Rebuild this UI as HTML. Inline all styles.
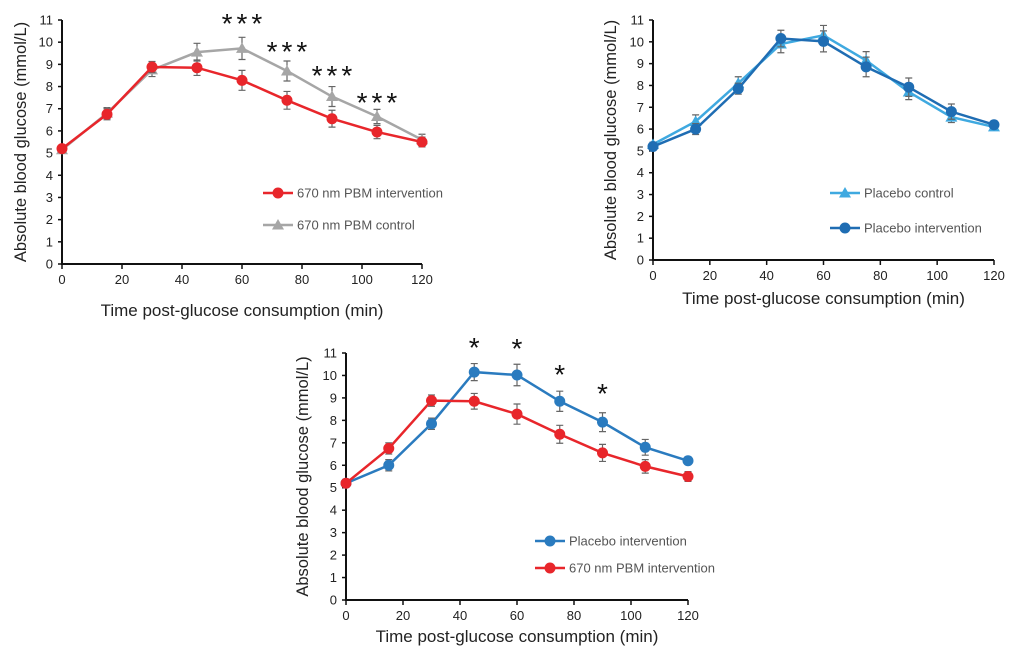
<!DOCTYPE html>
<html><head><meta charset="utf-8"><style>
body{margin:0;background:#fff;}
svg{display:block;font-family:"Liberation Sans","DejaVu Sans",sans-serif;}
</style></head><body>
<svg id="fig" width="1024" height="650"></svg>
<script>
const times=[0,15,30,45,60,75,90,105,120];
const xTicks=[0,20,40,60,80,100,120];
const yTicks=[0,1,2,3,4,5,6,7,8,9,10,11];
const pbmInt=[5.2,6.75,8.88,8.85,8.28,7.38,6.55,5.95,5.5];
const pbmIntErr=[0.15,0.25,0.25,0.35,0.45,0.4,0.38,0.3,0.22];
const pbmCtl=[5.15,6.8,8.75,9.55,9.72,8.7,7.55,6.65,5.6];
const pbmCtlErr=[0.1,0.25,0.3,0.4,0.5,0.45,0.45,0.32,0.25];
const plcCtl=[5.3,6.35,8.1,9.9,10.3,9.15,7.7,6.55,6.1];
const plcCtlErr=[0.1,0.3,0.3,0.4,0.45,0.4,0.35,0.25,0.15];
const plcInt=[5.2,6.0,7.85,10.15,10.02,8.85,7.92,6.8,6.2];
const plcIntErr=[0.1,0.25,0.25,0.38,0.48,0.45,0.42,0.35,0.1];
const sig1Times=[60,75,90,105];
const sig1Vals=[11.09,9.83,8.75,7.53];
const sig3Times=[45,60,75,90];
const sig3Vals=[11.49,11.45,10.29,9.44];

const NS="http://www.w3.org/2000/svg";
const svg=document.getElementById('fig');
function mk(tag,attrs,parent,text){const e=document.createElementNS(NS,tag);for(const k in attrs)e.setAttribute(k,attrs[k]);if(text!==undefined)e.textContent=text;(parent||svg).appendChild(e);return e;}

function chart(cfg){
  const g=mk('g',{});
  
  
  const X=t=>cfg.x0+(cfg.x1-cfg.x0)*t/120;
  const Y=v=>cfg.y0-(cfg.y0-cfg.y1)*v/11;
  const ax=mk('path',{d:`M${cfg.x0} ${Y(11)}V${cfg.y0}H${cfg.x1}`,stroke:'#111',fill:'none','stroke-width':2},g);
  
  
  yTicks.forEach(v=>{
    mk('line',{x1:cfg.x0-4,x2:cfg.x0,y1:Y(v),y2:Y(v),stroke:'#111','stroke-width':1.5},g);
    const t=mk('text',{x:cfg.x0-9,y:Y(v)+4.5,'text-anchor':'end','font-size':13,fill:'#222'},g,v);
    
    
  });
  xTicks.forEach(v=>{
    mk('line',{x1:X(v),x2:X(v),y1:cfg.y0,y2:cfg.y0+5,stroke:'#111','stroke-width':1.5},g);
    const t=mk('text',{x:X(v),y:cfg.y0+20,'text-anchor':'middle','font-size':13,fill:'#222'},g,v);
    
    
  });
  const yt=mk('text',{transform:`translate(${cfg.ytx},${(cfg.y0+Y(11))/2}) rotate(-90)`,'text-anchor':'middle','font-size':16.5,fill:'#222'},g,'Absolute blood glucose (mmol/L)');
  
  
  const xt=mk('text',{x:(cfg.x0+cfg.x1)/2,y:cfg.xty,'text-anchor':'middle','font-size':17,fill:'#222'},g,'Time post-glucose consumption (min)');
  
  
  cfg.series.forEach(s=>{
    const sg=mk('g',{},g);
    
    
    mk('polyline',{points:times.map((t,i)=>X(t)+','+Y(s.v[i])).join(' '),fill:'none',stroke:s.c,'stroke-width':2.5},sg);
    times.forEach((t,i)=>{
      const x=X(t),a=Y(s.v[i]+s.e[i]),b=Y(s.v[i]-s.e[i]);
      mk('path',{d:`M${x} ${a}V${b}M${x-3.5} ${a}H${x+3.5}M${x-3.5} ${b}H${x+3.5}`,stroke:'#666','stroke-width':1.2,fill:'none'},sg);
      let m;
      if(s.m==='tri') m=mk('polygon',{points:`${x},${Y(s.v[i])-6} ${x-6},${Y(s.v[i])+4.5} ${x+6},${Y(s.v[i])+4.5}`,fill:s.c},sg);
      else m=mk('circle',{cx:x,cy:Y(s.v[i]),r:5.5,fill:s.c},sg);
      
      
    });
  });
  cfg.legend.forEach(l=>{
    const lg=mk('g',{},g);
    
    
    mk('line',{x1:l.x,x2:l.x+30,y1:l.y,y2:l.y,stroke:l.c,'stroke-width':2.5},lg);
    if(l.m==='tri') mk('polygon',{points:`${l.x+15},${l.y-6} ${l.x+9},${l.y+4.5} ${l.x+21},${l.y+4.5}`,fill:l.c},lg);
    else mk('circle',{cx:l.x+15,cy:l.y,r:5.5,fill:l.c},lg);
    mk('text',{x:l.x+34,y:l.y+4.5,'font-size':13,fill:'#555'},lg,l.t);
  });
  (cfg.sigT||[]).forEach((t,i)=>{
    const s=mk('text',{x:X(t)+cfg.sigLs/2,y:Y(cfg.sigV[i])+15,'text-anchor':'middle','font-size':28,'letter-spacing':cfg.sigLs,fill:'#111'},g,cfg.sigTxt);
    
    
  });
}

chart({name:'chart-pbm',x0:62,x1:422,y0:264,y1:20,ytx:26,xty:316,
  series:[{id:'series-pbm-control',v:pbmCtl,e:pbmCtlErr,c:'#a6a6a6',m:'tri'},{id:'series-pbm-intervention',v:pbmInt,e:pbmIntErr,c:'#e8262b',m:'c'}],
  legend:[{x:263,y:193,c:'#e8262b',m:'c',t:'670 nm PBM intervention'},{x:263,y:225,c:'#a6a6a6',m:'tri',t:'670 nm PBM control'}],
  sigT:sig1Times,sigV:sig1Vals,sigTxt:'***',sigLs:4});
chart({name:'chart-placebo',x0:653,x1:994,y0:260,y1:20,ytx:616,xty:304,
  series:[{id:'series-placebo-control',v:plcCtl,e:plcCtlErr,c:'#3fa9e0',m:'tri'},{id:'series-placebo-intervention',v:plcInt,e:plcIntErr,c:'#1f6db3',m:'c'}],
  legend:[{x:830,y:193,c:'#3fa9e0',m:'tri',t:'Placebo control'},{x:830,y:228,c:'#1f6db3',m:'c',t:'Placebo intervention'}]});
chart({name:'chart-comparison',x0:346,x1:688,y0:600,y1:353,ytx:308,xty:642,
  series:[{id:'series-placebo-intervention',v:plcInt,e:plcIntErr,c:'#2a7bbf',m:'c'},{id:'series-pbm-intervention',v:pbmInt,e:pbmIntErr,c:'#e8262b',m:'c'}],
  legend:[{x:535,y:541,c:'#2a7bbf',m:'c',t:'Placebo intervention'},{x:535,y:568,c:'#e8262b',m:'c',t:'670 nm PBM intervention'}],
  sigT:sig3Times,sigV:sig3Vals,sigTxt:'*',sigLs:0});
</script>
</body></html>
